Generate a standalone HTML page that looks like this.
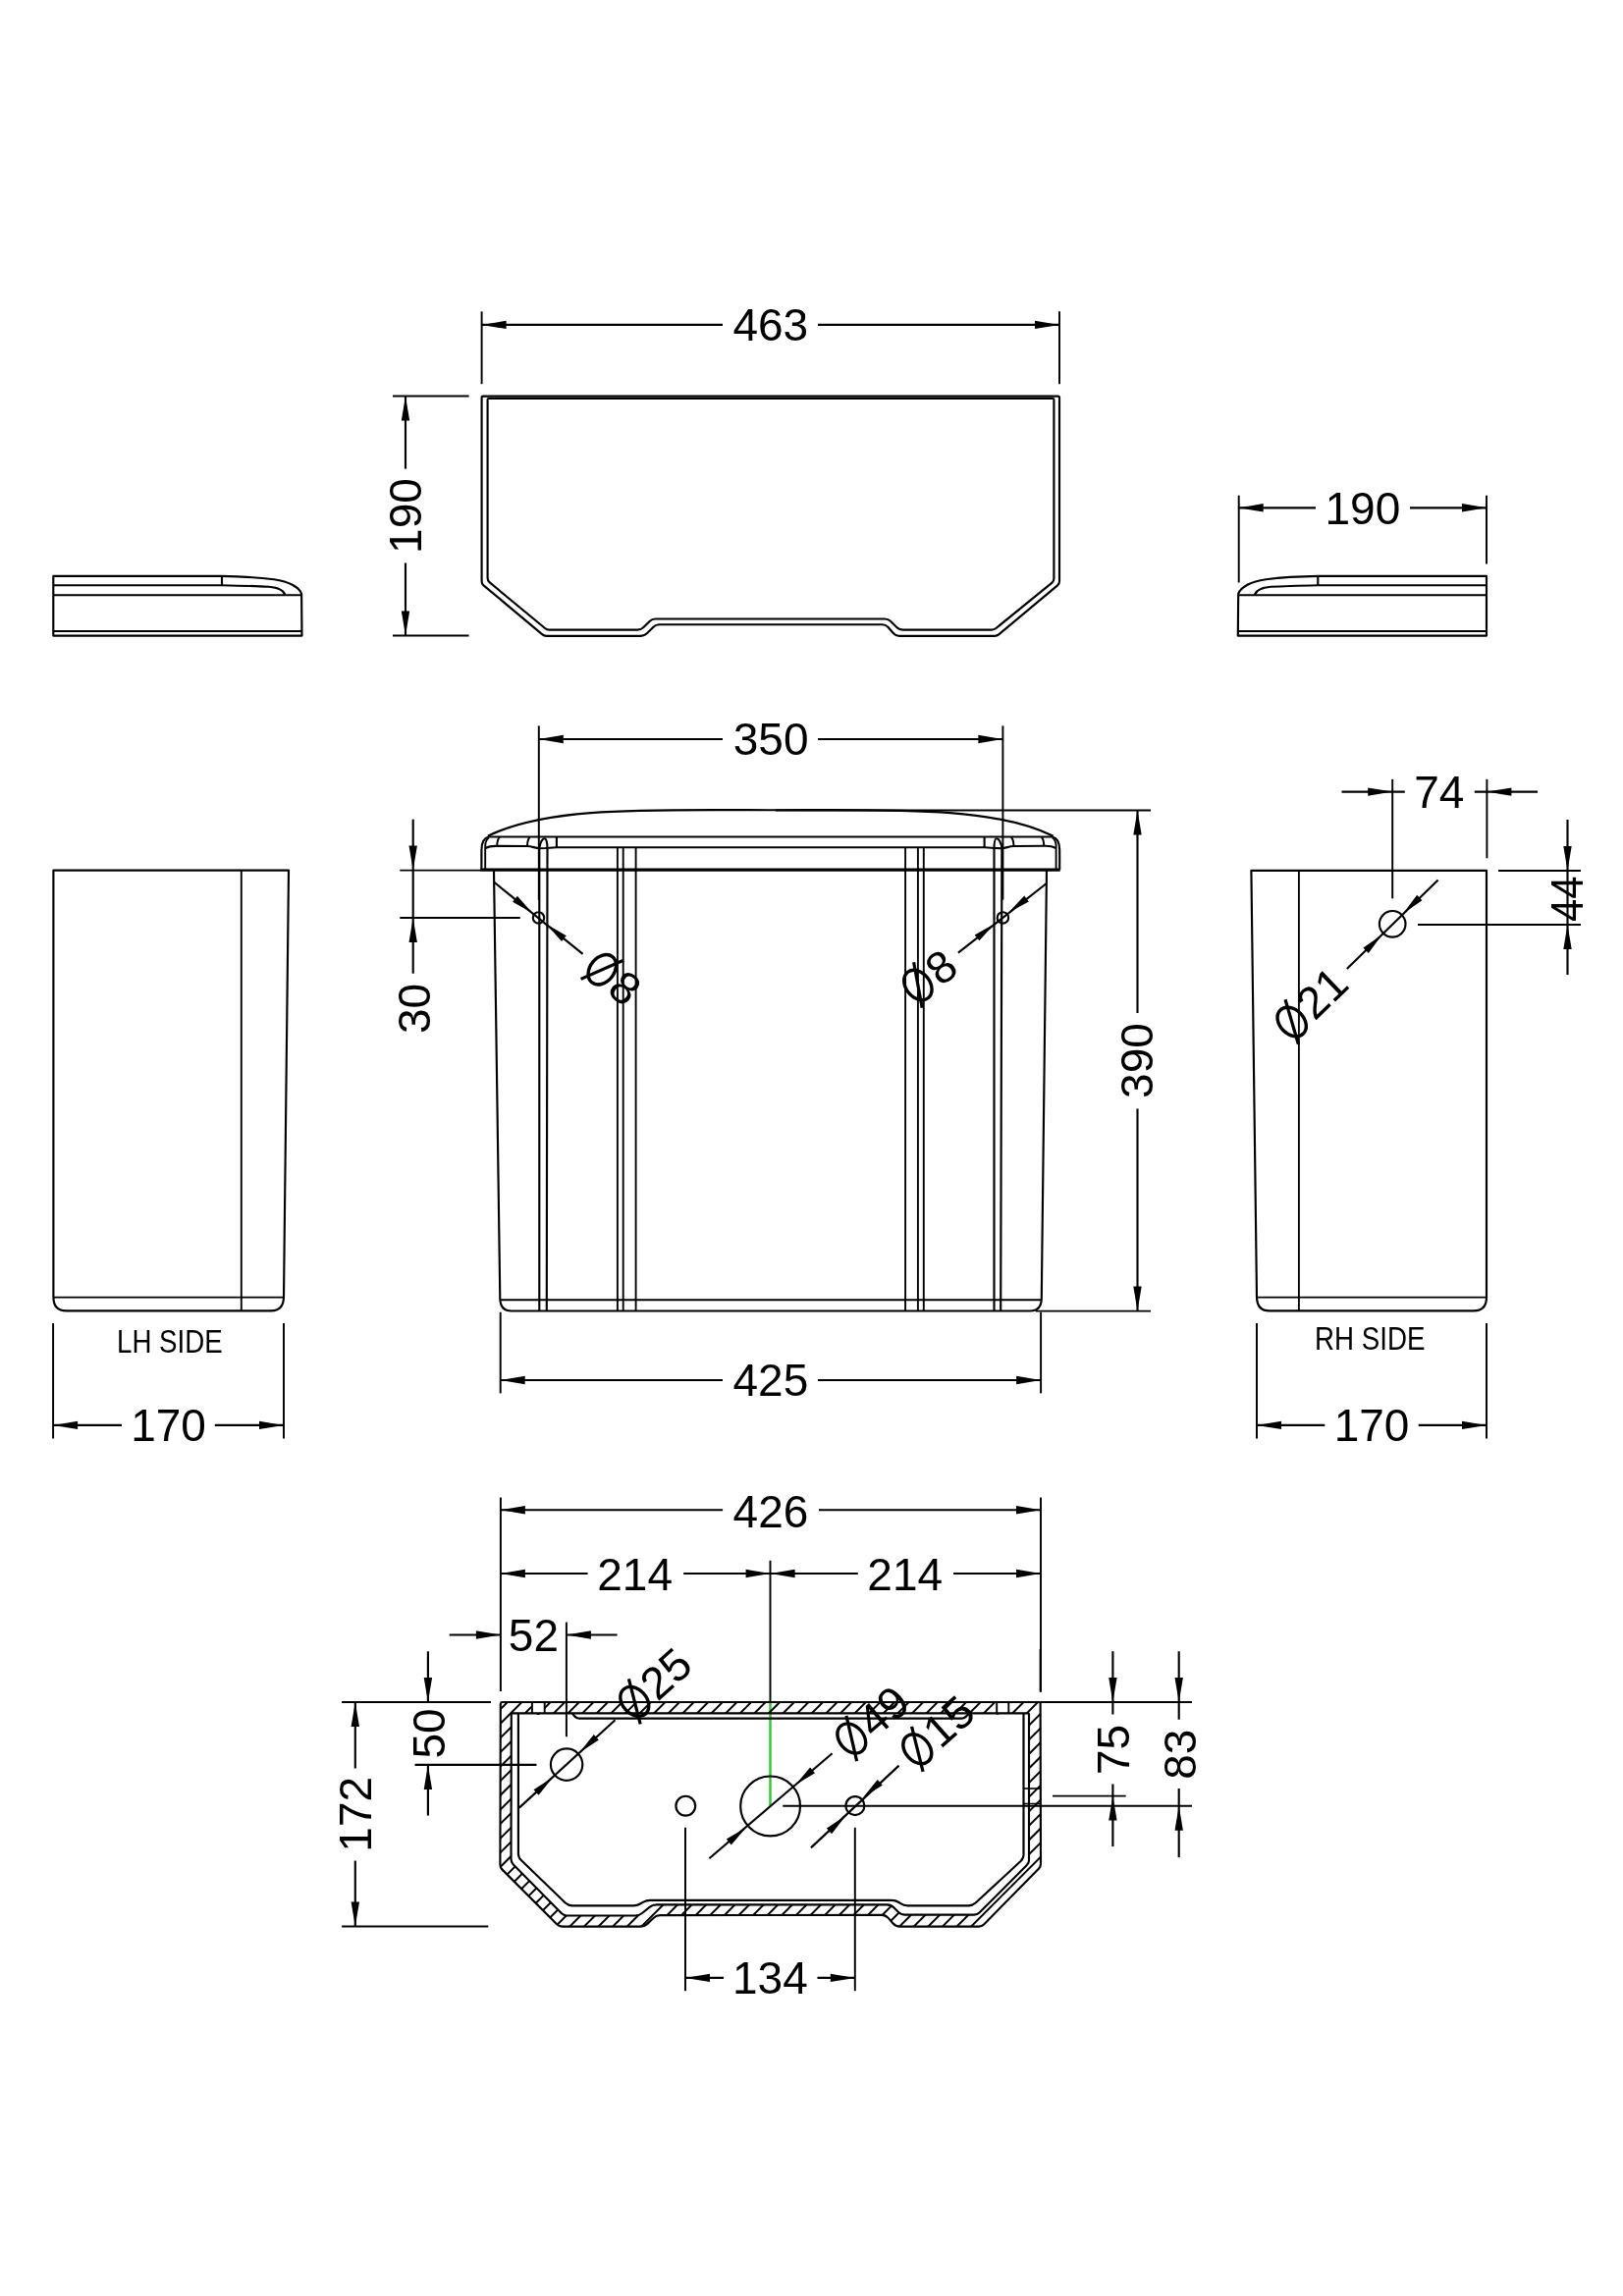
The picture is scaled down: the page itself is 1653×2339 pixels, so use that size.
<!DOCTYPE html>
<html><head><meta charset="utf-8"><style>
html,body{margin:0;padding:0;background:#fff;width:1653px;height:2339px;overflow:hidden}
svg{display:block;position:absolute;left:0;top:0;will-change:transform;font-family:"Liberation Sans",sans-serif}
</style></head><body>
<svg width="1653" height="2339" viewBox="0 0 1653 2339" font-family="Liberation Sans, sans-serif" stroke-linecap="butt" stroke-linejoin="round">
<rect width="1653" height="2339" fill="#fff"/>
<line x1="490.6" y1="317.3" x2="490.6" y2="391.2" stroke="#000" stroke-width="1.95"/>
<line x1="1079" y1="317.3" x2="1079" y2="391.2" stroke="#000" stroke-width="1.95"/>
<line x1="490.6" y1="330.9" x2="736" y2="330.9" stroke="#000" stroke-width="2.15"/>
<line x1="833" y1="330.9" x2="1079" y2="330.9" stroke="#000" stroke-width="2.15"/>
<path d="M490.6,330.9 L515.6,326.7 L515.6,335.1 Z" fill="#000"/>
<path d="M1079,330.9 L1054,335.1 L1054,326.7 Z" fill="#000"/>
<text transform="translate(784.8,347.3)" font-size="46" text-anchor="middle">463</text>
<path d="M492.1,403.6 L1077.5,403.6 Q1079,403.6 1079,405.1 L1079,592.2 Q1079,594.7 1077.08,596.31 L1017.52,646.19 Q1015.6,647.8 1013.1,647.8 L915.9,647.8 Q912.4,647.8 910.06,645.19 L904.34,638.81 Q902,636.2 898.5,636.2 L671.5,636.2 Q668,636.2 665.53,638.67 L658.87,645.33 Q656.4,647.8 652.9,647.8 L556.5,647.8 Q554,647.8 552.08,646.19 L492.52,596.31 Q490.6,594.7 490.6,592.2 L490.6,405.1 Q490.6,403.6 492.1,403.6 Z" fill="none" stroke="#000" stroke-width="2.15"/>
<path d="M497.6,406 L1072.4,406 Q1073.4,406 1073.4,407 L1073.4,589.5 Q1073.4,592 1071.46,593.58 L1014.44,640.02 Q1012.5,641.6 1010,641.6 L919.5,641.6 Q916,641.6 913.5,639.15 L907.2,632.95 Q904.7,630.5 901.2,630.5 L667.5,630.5 Q664,630.5 661.54,632.99 L655.46,639.11 Q653,641.6 649.5,641.6 L559.5,641.6 Q557,641.6 555.07,640.01 L498.53,593.19 Q496.6,591.6 496.6,589.1 L496.6,407 Q496.6,406 497.6,406 Z" fill="none" stroke="#000" stroke-width="2.15"/>
<line x1="400" y1="403.5" x2="477.6" y2="403.5" stroke="#000" stroke-width="1.95"/>
<line x1="400" y1="647.5" x2="477.6" y2="647.5" stroke="#000" stroke-width="1.95"/>
<line x1="413" y1="403.5" x2="413" y2="477.6" stroke="#000" stroke-width="2.15"/>
<line x1="413" y1="573.5" x2="413" y2="647.5" stroke="#000" stroke-width="2.15"/>
<path d="M413,403.5 L417.2,428.5 L408.8,428.5 Z" fill="#000"/>
<path d="M413,647.5 L408.8,622.5 L417.2,622.5 Z" fill="#000"/>
<text transform="translate(429.4,525.5) rotate(-90)" font-size="46" text-anchor="middle">190</text>
<path d="M226,586.9 L54.3,586.9 L54.3,647.6 L307.5,647.6 L307.1,604.5" fill="none" stroke="#000" stroke-width="2.15"/>
<line x1="54.3" y1="596.2" x2="226" y2="596.2" stroke="#000" stroke-width="2.15"/>
<line x1="54.3" y1="606.2" x2="307.1" y2="606.2" stroke="#000" stroke-width="2.15"/>
<line x1="54.3" y1="643" x2="307.3" y2="643" stroke="#000" stroke-width="2.15"/>
<line x1="226" y1="586.9" x2="226" y2="596.2" stroke="#000" stroke-width="2.15"/>
<path d="M226,586.9 C250,587.3 266,588.6 279,590.2 C295,592.5 305,598.5 307.1,605" fill="none" stroke="#000" stroke-width="2.15"/>
<path d="M226,596.2 C245,596.6 262,597.1 274,597.8 C284,598.6 289,601.5 290.5,606.2" fill="none" stroke="#000" stroke-width="2.15"/>
<path d="M1342.3,586.9 L1514,586.9 L1514,647.6 L1260.8,647.6 L1261.2,604.5" fill="none" stroke="#000" stroke-width="2.15"/>
<line x1="1514" y1="596.2" x2="1342.3" y2="596.2" stroke="#000" stroke-width="2.15"/>
<line x1="1514" y1="606.2" x2="1261.2" y2="606.2" stroke="#000" stroke-width="2.15"/>
<line x1="1514" y1="643" x2="1261" y2="643" stroke="#000" stroke-width="2.15"/>
<line x1="1342.3" y1="586.9" x2="1342.3" y2="596.2" stroke="#000" stroke-width="2.15"/>
<path d="M1342.3,586.9 C1318.3,587.3 1302.3,588.6 1289.3,590.2 C1273.3,592.5 1263.3,598.5 1261.2,605" fill="none" stroke="#000" stroke-width="2.15"/>
<path d="M1342.3,596.2 C1323.3,596.6 1306.3,597.1 1294.3,597.8 C1284.3,598.6 1279.3,601.5 1277.8,606.2" fill="none" stroke="#000" stroke-width="2.15"/>
<line x1="1261.7" y1="504.7" x2="1261.7" y2="593.5" stroke="#000" stroke-width="1.95"/>
<line x1="1514" y1="504.7" x2="1514" y2="574.5" stroke="#000" stroke-width="1.95"/>
<line x1="1261.7" y1="517.3" x2="1340" y2="517.3" stroke="#000" stroke-width="2.15"/>
<line x1="1436" y1="517.3" x2="1514" y2="517.3" stroke="#000" stroke-width="2.15"/>
<path d="M1261.7,517.3 L1286.7,513.1 L1286.7,521.5 Z" fill="#000"/>
<path d="M1514,517.3 L1489,521.5 L1489,513.1 Z" fill="#000"/>
<text transform="translate(1387.85,534)" font-size="46" text-anchor="middle">190</text>
<line x1="548.8" y1="739.4" x2="548.8" y2="916.6" stroke="#000" stroke-width="1.95"/>
<line x1="1021.4" y1="739.4" x2="1021.4" y2="916.6" stroke="#000" stroke-width="1.95"/>
<line x1="548.8" y1="753" x2="736" y2="753" stroke="#000" stroke-width="2.15"/>
<line x1="833" y1="753" x2="1021.4" y2="753" stroke="#000" stroke-width="2.15"/>
<path d="M548.8,753 L573.8,748.8 L573.8,757.2 Z" fill="#000"/>
<path d="M1021.4,753 L996.4,757.2 L996.4,748.8 Z" fill="#000"/>
<text transform="translate(785.1,769.3)" font-size="46" text-anchor="middle">350</text>
<path d="M496.8,851.8 C557.8,821.2 660,825.2 784.75,825.2 C909.5,825.2 1011.7,821.2 1072.7,851.8" fill="none" stroke="#000" stroke-width="2.15"/>
<path d="M490.4,886 L490.4,866 C490.4,858 493,853.5 498,852.5 L1071.5,852.5 C1076.5,853.5 1079.2,858 1079.2,866 L1079.2,886" fill="none" stroke="#000" stroke-width="2.15"/>
<path d="M494.2,886 L494.2,862 C494.2,858 495.5,855 498,853.5" fill="none" stroke="#000" stroke-width="1.9"/>
<path d="M1075.6,886 L1075.6,862 C1075.6,858 1074.3,855 1071.8,853.5" fill="none" stroke="#000" stroke-width="1.9"/>
<line x1="489.5" y1="886.2" x2="1079.7" y2="886.2" stroke="#000" stroke-width="3.3"/>
<path d="M494.5,864 C497,862.5 500,861.8 505,861.8 L537,862 C542,862 545,864.2 549.5,864.2 L556,864 L567,863.2 L1002.5,863.2 L1013.5,864 L1020,864.2 C1024.5,864.2 1027.5,862 1032.5,862 L1064.5,861.8 C1069.5,861.8 1072.5,862.5 1075,864" fill="none" stroke="#000" stroke-width="2.15"/>
<path d="M508.8,852.9 C507.3,854.5 506.4,857 506.3,861" fill="none" stroke="#000" stroke-width="2.0"/>
<path d="M1060.7,852.9 C1062.2,854.5 1063.1,857 1063.2,861" fill="none" stroke="#000" stroke-width="2.0"/>
<path d="M539.6,852.9 C538.1,854.5 537.2,857 537.1,861" fill="none" stroke="#000" stroke-width="2.0"/>
<path d="M1029.9,852.9 C1031.4,854.5 1032.3,857 1032.4,861" fill="none" stroke="#000" stroke-width="2.0"/>
<line x1="566.9" y1="852.5" x2="566.9" y2="863.2" stroke="#000" stroke-width="2.15"/>
<line x1="1002.6" y1="852.5" x2="1002.6" y2="863.2" stroke="#000" stroke-width="2.15"/>
<path d="M549.3,1335.5 L549.3,864 C550,858 552.5,854.2 554.7,854.2 C556.3,854.2 557.5,858 557.5,865 L556.8,1335.5" fill="none" stroke="#000" stroke-width="2.15"/>
<path d="M1012.5,1335.5 L1012.5,865 C1012.5,858 1013.3,854.2 1014.9,854.2 C1017,854.2 1019.8,858 1020.4,864 L1019.2,1335.5" fill="none" stroke="#000" stroke-width="2.15"/>
<line x1="628.9" y1="863.2" x2="628.9" y2="1335.5" stroke="#000" stroke-width="1.9"/>
<line x1="634.7" y1="863.2" x2="634.7" y2="1335.5" stroke="#000" stroke-width="1.9"/>
<line x1="647.6" y1="863.2" x2="647.6" y2="1335.5" stroke="#000" stroke-width="1.9"/>
<line x1="922.1" y1="863.2" x2="922.1" y2="1335.5" stroke="#000" stroke-width="1.9"/>
<line x1="934.9" y1="863.2" x2="934.9" y2="1335.5" stroke="#000" stroke-width="1.9"/>
<line x1="940.8" y1="863.2" x2="940.8" y2="1335.5" stroke="#000" stroke-width="1.9"/>
<path d="M503,886 L509.3,1323 C509.5,1331 513,1335.5 521,1335.5 L1049,1335.5 C1057,1335.5 1060.6,1331 1060.8,1323 L1066,886" fill="none" stroke="#000" stroke-width="2.15"/>
<line x1="509.3" y1="1324.2" x2="1060.8" y2="1324.2" stroke="#000" stroke-width="2.15"/>
<circle cx="548.5" cy="934.9" r="5.7" fill="none" stroke="#000" stroke-width="2.15"/>
<circle cx="1021.4" cy="934.9" r="5.7" fill="none" stroke="#000" stroke-width="2.15"/>
<line x1="503" y1="898.5" x2="593.6" y2="971.8" stroke="#000" stroke-width="2.15"/>
<path d="M542.4,930.2 L522.1,918.74 L526.86,912.82 Z" fill="#000"/>
<path d="M556.6,941.5 L576.8,953.13 L571.99,959.01 Z" fill="#000"/>
<line x1="1065.8" y1="900" x2="975.9" y2="970.7" stroke="#000" stroke-width="2.15"/>
<path d="M1027.3,929.6 L1043.22,912.57 L1047.85,918.59 Z" fill="#000"/>
<path d="M1013,941 L997.42,958.34 L992.67,952.41 Z" fill="#000"/>
<g transform="translate(613.3,987.8) rotate(38.5)">
<ellipse cx="0" cy="0" rx="12.3" ry="16.8" fill="none" stroke="#000" stroke-width="3.4"/>
<line x1="11" y1="-21" x2="-11" y2="21" stroke="#000" stroke-width="3.2"/>
<text x="17" y="16" font-size="46">8</text>
</g>
<g transform="translate(934.9,1003.5) rotate(-38)">
<ellipse cx="0" cy="0" rx="12.3" ry="16.8" fill="none" stroke="#000" stroke-width="3.4"/>
<line x1="11" y1="-21" x2="-11" y2="21" stroke="#000" stroke-width="3.2"/>
<text x="17" y="16" font-size="46">8</text>
</g>
<line x1="407.3" y1="886.6" x2="490" y2="886.6" stroke="#000" stroke-width="1.95"/>
<line x1="407.3" y1="935" x2="529.8" y2="935" stroke="#000" stroke-width="1.95"/>
<line x1="420.7" y1="834.7" x2="420.7" y2="991.7" stroke="#000" stroke-width="2.15"/>
<path d="M420.7,886.6 L416.5,861.6 L424.9,861.6 Z" fill="#000"/>
<path d="M420.7,935 L424.9,960 L416.5,960 Z" fill="#000"/>
<text transform="translate(438.3,1027.5) rotate(-90)" font-size="46" text-anchor="middle">30</text>
<line x1="790" y1="825.5" x2="1172" y2="825.5" stroke="#000" stroke-width="1.95"/>
<line x1="1055" y1="1335.6" x2="1172" y2="1335.6" stroke="#000" stroke-width="1.95"/>
<line x1="1158.5" y1="825.5" x2="1158.5" y2="1032" stroke="#000" stroke-width="2.15"/>
<line x1="1158.5" y1="1129.5" x2="1158.5" y2="1335.6" stroke="#000" stroke-width="2.15"/>
<path d="M1158.5,825.5 L1162.7,850.5 L1154.3,850.5 Z" fill="#000"/>
<path d="M1158.5,1335.6 L1154.3,1310.6 L1162.7,1310.6 Z" fill="#000"/>
<text transform="translate(1174.3,1080.55) rotate(-90)" font-size="46" text-anchor="middle">390</text>
<line x1="509.7" y1="1336.7" x2="509.7" y2="1419.4" stroke="#000" stroke-width="1.95"/>
<line x1="1060.1" y1="1336.7" x2="1060.1" y2="1419.4" stroke="#000" stroke-width="1.95"/>
<line x1="509.7" y1="1406" x2="736" y2="1406" stroke="#000" stroke-width="2.15"/>
<line x1="833" y1="1406" x2="1060.1" y2="1406" stroke="#000" stroke-width="2.15"/>
<path d="M509.7,1406 L534.7,1401.8 L534.7,1410.2 Z" fill="#000"/>
<path d="M1060.1,1406 L1035.1,1410.2 L1035.1,1401.8 Z" fill="#000"/>
<text transform="translate(784.9,1422)" font-size="46" text-anchor="middle">425</text>
<path d="M54.4,886.6 L294,886.6 L289,1321.6 C288.8,1330 285,1335.4 276,1335.4 L67.5,1335.4 C58,1335.4 54.4,1330 54.4,1321.6 Z" fill="none" stroke="#000" stroke-width="2.15"/>
<line x1="245.8" y1="886.6" x2="245.8" y2="1335.4" stroke="#000" stroke-width="1.9"/>
<line x1="54.1" y1="1321.6" x2="289" y2="1321.6" stroke="#000" stroke-width="1.9"/>
<line x1="54.1" y1="1348" x2="54.1" y2="1465.5" stroke="#000" stroke-width="1.95"/>
<line x1="289" y1="1348" x2="289" y2="1465.5" stroke="#000" stroke-width="1.95"/>
<line x1="54.1" y1="1451.9" x2="124" y2="1451.9" stroke="#000" stroke-width="2.15"/>
<line x1="218.8" y1="1451.9" x2="289" y2="1451.9" stroke="#000" stroke-width="2.15"/>
<path d="M54.1,1451.9 L79.1,1447.7 L79.1,1456.1 Z" fill="#000"/>
<path d="M289,1451.9 L264,1456.1 L264,1447.7 Z" fill="#000"/>
<text transform="translate(171.55,1468)" font-size="46" text-anchor="middle">170</text>
<text transform="translate(172.9,1378.2) scale(0.84,1.0)" font-size="33" text-anchor="middle">LH SIDE</text>
<path d="M1274.4,886.9 L1514,886.9 L1514,1321.6 C1514,1330 1510,1335.4 1501,1335.4 L1293,1335.4 C1284,1335.4 1280.2,1330 1280,1321.6 Z" fill="none" stroke="#000" stroke-width="2.15"/>
<line x1="1322.9" y1="886.9" x2="1322.9" y2="1335.4" stroke="#000" stroke-width="1.9"/>
<line x1="1280" y1="1321.6" x2="1514" y2="1321.6" stroke="#000" stroke-width="1.9"/>
<line x1="1280" y1="1348" x2="1280" y2="1465.5" stroke="#000" stroke-width="1.95"/>
<line x1="1514" y1="1348" x2="1514" y2="1465.5" stroke="#000" stroke-width="1.95"/>
<line x1="1280" y1="1451.9" x2="1349.3" y2="1451.9" stroke="#000" stroke-width="2.15"/>
<line x1="1444.7" y1="1451.9" x2="1514" y2="1451.9" stroke="#000" stroke-width="2.15"/>
<path d="M1280,1451.9 L1305,1447.7 L1305,1456.1 Z" fill="#000"/>
<path d="M1514,1451.9 L1489,1456.1 L1489,1447.7 Z" fill="#000"/>
<text transform="translate(1397,1468)" font-size="46" text-anchor="middle">170</text>
<text transform="translate(1395.2,1375.2) scale(0.84,1.0)" font-size="33" text-anchor="middle">RH SIDE</text>
<line x1="1418.2" y1="793.8" x2="1418.2" y2="915.3" stroke="#000" stroke-width="1.95"/>
<line x1="1514.4" y1="793.8" x2="1514.4" y2="874.3" stroke="#000" stroke-width="1.95"/>
<line x1="1366.5" y1="806.6" x2="1430.8" y2="806.6" stroke="#000" stroke-width="2.15"/>
<path d="M1418.2,806.6 L1393.2,810.8 L1393.2,802.4 Z" fill="#000"/>
<line x1="1501.8" y1="806.6" x2="1566" y2="806.6" stroke="#000" stroke-width="2.15"/>
<path d="M1514.4,806.6 L1539.4,802.4 L1539.4,810.8 Z" fill="#000"/>
<text transform="translate(1465.8,823.3)" font-size="46" text-anchor="middle">74</text>
<line x1="1526" y1="886.9" x2="1610" y2="886.9" stroke="#000" stroke-width="1.95"/>
<line x1="1444" y1="942" x2="1610" y2="942" stroke="#000" stroke-width="1.95"/>
<line x1="1596.5" y1="835" x2="1596.5" y2="886.9" stroke="#000" stroke-width="2.15"/>
<path d="M1596.5,886.9 L1592.3,861.9 L1600.7,861.9 Z" fill="#000"/>
<line x1="1596.5" y1="942" x2="1596.5" y2="993" stroke="#000" stroke-width="2.15"/>
<path d="M1596.5,942 L1600.7,967 L1592.3,967 Z" fill="#000"/>
<line x1="1596.5" y1="886.9" x2="1596.5" y2="942" stroke="#000" stroke-width="2.15"/>
<text transform="translate(1611.6,915.8) rotate(-90) scale(0.91,1.0)" font-size="46" text-anchor="middle">44</text>
<circle cx="1418.2" cy="941.3" r="13.3" fill="none" stroke="#000" stroke-width="2.15"/>
<line x1="1464.6" y1="896.5" x2="1371.8" y2="987" stroke="#000" stroke-width="2.15"/>
<path d="M1429.2,930.5 L1443.16,911.83 L1448.42,917.31 Z" fill="#000"/>
<path d="M1407.6,952.2 L1393.76,970.96 L1388.46,965.51 Z" fill="#000"/>
<g transform="translate(1315.7,1041) rotate(-44)">
<ellipse cx="0" cy="0" rx="12.3" ry="16.8" fill="none" stroke="#000" stroke-width="3.4"/>
<line x1="11" y1="-21" x2="-11" y2="21" stroke="#000" stroke-width="3.2"/>
<text x="17" y="16" font-size="46">21</text>
</g>
<line x1="509.9" y1="1525.5" x2="509.9" y2="1723" stroke="#000" stroke-width="1.95"/>
<line x1="1060" y1="1525.5" x2="1060" y2="1723.6" stroke="#000" stroke-width="1.95"/>
<line x1="509.9" y1="1538.2" x2="736.1" y2="1538.2" stroke="#000" stroke-width="2.15"/>
<line x1="834" y1="1538.2" x2="1060" y2="1538.2" stroke="#000" stroke-width="2.15"/>
<path d="M509.9,1538.2 L534.9,1534 L534.9,1542.4 Z" fill="#000"/>
<path d="M1060,1538.2 L1035,1542.4 L1035,1534 Z" fill="#000"/>
<text transform="translate(784.95,1555.5)" font-size="46" text-anchor="middle">426</text>
<line x1="509.9" y1="1603" x2="598.6" y2="1603" stroke="#000" stroke-width="2.15"/>
<line x1="696.2" y1="1603" x2="873.8" y2="1603" stroke="#000" stroke-width="2.15"/>
<line x1="971" y1="1603" x2="1060" y2="1603" stroke="#000" stroke-width="2.15"/>
<path d="M509.9,1603 L534.9,1598.8 L534.9,1607.2 Z" fill="#000"/>
<path d="M784.6,1603 L759.6,1607.2 L759.6,1598.8 Z" fill="#000"/>
<path d="M784.6,1603 L809.6,1598.8 L809.6,1607.2 Z" fill="#000"/>
<path d="M1060,1603 L1035,1607.2 L1035,1598.8 Z" fill="#000"/>
<text transform="translate(646.6,1619.8)" font-size="46" text-anchor="middle">214</text>
<text transform="translate(921.7,1619.6)" font-size="46" text-anchor="middle">214</text>
<line x1="784.5" y1="1589.8" x2="784.5" y2="1734" stroke="#000" stroke-width="1.95"/>
<line x1="784.5" y1="1734" x2="784.5" y2="1839.9" stroke="#35c835" stroke-width="2.5"/>
<line x1="457.7" y1="1665.5" x2="509.9" y2="1665.5" stroke="#000" stroke-width="2.15"/>
<path d="M509.9,1665.5 L484.9,1669.7 L484.9,1661.3 Z" fill="#000"/>
<line x1="576.9" y1="1652.6" x2="576.9" y2="1769.2" stroke="#000" stroke-width="1.95"/>
<line x1="576.9" y1="1665.5" x2="628.6" y2="1665.5" stroke="#000" stroke-width="2.15"/>
<path d="M576.9,1665.5 L601.9,1661.3 L601.9,1669.7 Z" fill="#000"/>
<text transform="translate(543.4,1682.3)" font-size="46" text-anchor="middle">52</text>
<line x1="348.1" y1="1734" x2="500" y2="1734" stroke="#000" stroke-width="1.95"/>
<line x1="435.9" y1="1682.3" x2="435.9" y2="1734" stroke="#000" stroke-width="2.15"/>
<path d="M435.9,1734 L431.7,1709 L440.1,1709 Z" fill="#000"/>
<line x1="422.7" y1="1798" x2="546.3" y2="1798" stroke="#000" stroke-width="1.95"/>
<line x1="435.9" y1="1798" x2="435.9" y2="1849.6" stroke="#000" stroke-width="2.15"/>
<path d="M435.9,1798 L440.1,1823 L431.7,1823 Z" fill="#000"/>
<text transform="translate(452.7,1765.9) rotate(-90)" font-size="46" text-anchor="middle">50</text>
<line x1="348.1" y1="1962.5" x2="497.3" y2="1962.5" stroke="#000" stroke-width="1.95"/>
<line x1="361.8" y1="1734" x2="361.8" y2="1801.5" stroke="#000" stroke-width="2.15"/>
<line x1="361.8" y1="1895.6" x2="361.8" y2="1962.5" stroke="#000" stroke-width="2.15"/>
<path d="M361.8,1734 L366,1759 L357.6,1759 Z" fill="#000"/>
<path d="M361.8,1962.5 L357.6,1937.5 L366,1937.5 Z" fill="#000"/>
<text transform="translate(378.1,1848.25) rotate(-90)" font-size="46" text-anchor="middle">172</text>
<line x1="1059.5" y1="1734" x2="1214" y2="1734" stroke="#000" stroke-width="1.95"/>
<line x1="797.3" y1="1839.7" x2="1214" y2="1839.7" stroke="#000" stroke-width="1.95"/>
<line x1="1072" y1="1829.6" x2="1146.7" y2="1829.6" stroke="#000" stroke-width="1.95"/>
<line x1="1059.6" y1="1680" x2="1059.6" y2="1723.6" stroke="#000" stroke-width="1.95"/>
<line x1="1133.4" y1="1682.2" x2="1133.4" y2="1746.5" stroke="#000" stroke-width="2.15"/>
<path d="M1133.4,1734 L1129.2,1709 L1137.6,1709 Z" fill="#000"/>
<line x1="1133.4" y1="1817.5" x2="1133.4" y2="1881.1" stroke="#000" stroke-width="2.15"/>
<path d="M1133.4,1829.6 L1137.6,1854.6 L1129.2,1854.6 Z" fill="#000"/>
<text transform="translate(1149.7,1782.5) rotate(-90)" font-size="46" text-anchor="middle">75</text>
<line x1="1200.7" y1="1682.2" x2="1200.7" y2="1751.7" stroke="#000" stroke-width="2.15"/>
<path d="M1200.7,1734 L1196.5,1709 L1204.9,1709 Z" fill="#000"/>
<line x1="1200.7" y1="1822" x2="1200.7" y2="1892.2" stroke="#000" stroke-width="2.15"/>
<path d="M1200.7,1839.7 L1204.9,1864.7 L1196.5,1864.7 Z" fill="#000"/>
<text transform="translate(1217.7,1787.2) rotate(-90)" font-size="46" text-anchor="middle">83</text>
<line x1="698" y1="1861.8" x2="698" y2="2028.2" stroke="#000" stroke-width="1.95"/>
<line x1="870.8" y1="1861.8" x2="870.8" y2="2028.2" stroke="#000" stroke-width="1.95"/>
<line x1="698" y1="2014.9" x2="737" y2="2014.9" stroke="#000" stroke-width="2.15"/>
<line x1="832.5" y1="2014.9" x2="870.8" y2="2014.9" stroke="#000" stroke-width="2.15"/>
<path d="M698,2014.9 L723,2010.7 L723,2019.1 Z" fill="#000"/>
<path d="M870.8,2014.9 L845.8,2019.1 L845.8,2010.7 Z" fill="#000"/>
<text transform="translate(784.4,2031)" font-size="46" text-anchor="middle">134</text>
<defs><clipPath id="hc"><path clip-rule="evenodd" d="M511.8,1734 L1058.6,1734 Q1059.6,1734 1059.6,1735 L1059.99,1898.6 Q1060,1901.6 1057.9,1903.74 L1002.1,1960.46 Q1000,1962.6 997,1962.6 L916.2,1962.6 Q912.2,1962.6 909.58,1959.57 L904.62,1953.83 Q902,1950.8 898,1950.81 L672.4,1951.19 Q668.4,1951.2 665.5,1953.95 L659.3,1959.85 Q656.4,1962.6 652.4,1962.6 L572.5,1962.6 Q569.5,1962.6 567.38,1960.48 L511.52,1904.62 Q509.4,1902.5 509.41,1899.5 L509.8,1736 Q509.8,1734 511.8,1734 Z M521.8,1745.4 L1047,1745.4 Q1048,1745.4 1048,1746.4 L1048,1894.9 Q1048,1897.9 1045.88,1900.02 L997.42,1948.48 Q995.3,1950.6 992.3,1950.6 L921.7,1950.6 Q917.7,1950.6 914.87,1947.77 L910.33,1943.23 Q907.5,1940.4 903.5,1940.4 L668.7,1940.4 Q664.7,1940.4 661.57,1942.9 L653.93,1949 Q650.8,1951.5 646.8,1951.5 L577.1,1951.5 Q574.1,1951.5 572,1949.36 L522.6,1899.14 Q520.5,1897 520.51,1894 L520.8,1746.4 Q520.8,1745.4 521.8,1745.4 Z M541.9,1733 L554.7,1733 L554.7,1747 L541.9,1747 Z M1015.2,1733 L1027.3,1733 L1027.3,1747 L1015.2,1747 Z"/></clipPath></defs>
<path clip-path="url(#hc)" d="M255.7,1966 L491.7,1730 M270.3,1966 L506.3,1730 M284.9,1966 L520.9,1730 M299.5,1966 L535.5,1730 M314.1,1966 L550.1,1730 M328.7,1966 L564.7,1730 M343.3,1966 L579.3,1730 M357.9,1966 L593.9,1730 M372.5,1966 L608.5,1730 M387.1,1966 L623.1,1730 M401.7,1966 L637.7,1730 M416.3,1966 L652.3,1730 M430.9,1966 L666.9,1730 M445.5,1966 L681.5,1730 M460.1,1966 L696.1,1730 M474.7,1966 L710.7,1730 M489.3,1966 L725.3,1730 M503.9,1966 L739.9,1730 M518.5,1966 L754.5,1730 M533.1,1966 L769.1,1730 M547.7,1966 L783.7,1730 M562.3,1966 L798.3,1730 M576.9,1966 L812.9,1730 M591.5,1966 L827.5,1730 M606.1,1966 L842.1,1730 M620.7,1966 L856.7,1730 M635.3,1966 L871.3,1730 M649.9,1966 L885.9,1730 M664.5,1966 L900.5,1730 M679.1,1966 L915.1,1730 M693.7,1966 L929.7,1730 M708.3,1966 L944.3,1730 M722.9,1966 L958.9,1730 M737.5,1966 L973.5,1730 M752.1,1966 L988.1,1730 M766.7,1966 L1002.7,1730 M781.3,1966 L1017.3,1730 M795.9,1966 L1031.9,1730 M810.5,1966 L1046.5,1730 M825.1,1966 L1061.1,1730 M839.7,1966 L1075.7,1730 M854.3,1966 L1090.3,1730 M868.9,1966 L1104.9,1730 M883.5,1966 L1119.5,1730 M898.1,1966 L1134.1,1730 M912.7,1966 L1148.7,1730 M927.3,1966 L1163.3,1730 M941.9,1966 L1177.9,1730 M956.5,1966 L1192.5,1730 M971.1,1966 L1207.1,1730 M985.7,1966 L1221.7,1730 M1000.3,1966 L1236.3,1730 M1014.9,1966 L1250.9,1730 M1029.5,1966 L1265.5,1730 M1044.1,1966 L1280.1,1730 M1058.7,1966 L1294.7,1730 M1073.3,1966 L1309.3,1730" stroke="#000" stroke-width="2" fill="none"/>
<path d="M511.8,1734 L1058.6,1734 Q1059.6,1734 1059.6,1735 L1059.99,1898.6 Q1060,1901.6 1057.9,1903.74 L1002.1,1960.46 Q1000,1962.6 997,1962.6 L916.2,1962.6 Q912.2,1962.6 909.58,1959.57 L904.62,1953.83 Q902,1950.8 898,1950.81 L672.4,1951.19 Q668.4,1951.2 665.5,1953.95 L659.3,1959.85 Q656.4,1962.6 652.4,1962.6 L572.5,1962.6 Q569.5,1962.6 567.38,1960.48 L511.52,1904.62 Q509.4,1902.5 509.41,1899.5 L509.8,1736 Q509.8,1734 511.8,1734 Z" fill="none" stroke="#000" stroke-width="2.15"/>
<path d="M521.8,1745.4 L1047,1745.4 Q1048,1745.4 1048,1746.4 L1048,1894.9 Q1048,1897.9 1045.88,1900.02 L997.42,1948.48 Q995.3,1950.6 992.3,1950.6 L921.7,1950.6 Q917.7,1950.6 914.87,1947.77 L910.33,1943.23 Q907.5,1940.4 903.5,1940.4 L668.7,1940.4 Q664.7,1940.4 661.57,1942.9 L653.93,1949 Q650.8,1951.5 646.8,1951.5 L577.1,1951.5 Q574.1,1951.5 572,1949.36 L522.6,1899.14 Q520.5,1897 520.51,1894 L520.8,1746.4 Q520.8,1745.4 521.8,1745.4 Z" fill="none" stroke="#000" stroke-width="2.15"/>
<line x1="541.9" y1="1734" x2="541.9" y2="1745.4" stroke="#000" stroke-width="1.9"/>
<line x1="554.7" y1="1734" x2="554.7" y2="1745.4" stroke="#000" stroke-width="1.9"/>
<line x1="1015.2" y1="1734" x2="1015.2" y2="1745.4" stroke="#000" stroke-width="1.9"/>
<line x1="1027.3" y1="1734" x2="1027.3" y2="1745.4" stroke="#000" stroke-width="1.9"/>
<line x1="1042.5" y1="1822" x2="1059.5" y2="1822" stroke="#000" stroke-width="1.6"/>
<line x1="1042.5" y1="1837.5" x2="1059.5" y2="1837.5" stroke="#000" stroke-width="1.6"/>
<path d="M527.9,1746 L527.9,1888.3 Q527.9,1892.3 530.78,1895.08 L575.82,1938.52 Q578.7,1941.3 582.7,1941.3 L645,1941.3 Q649,1941.3 652.43,1939.25 L654.77,1937.85 Q658.2,1935.8 662.2,1935.8 L908.2,1935.8 Q912.2,1935.8 915.53,1938.01 L917.17,1939.09 Q920.5,1941.3 924.5,1941.3 L986.7,1941.3 Q990.7,1941.3 993.63,1938.58 L1039.57,1896.02 Q1042.5,1893.3 1042.5,1889.3 L1042.5,1746" fill="none" stroke="#000" stroke-width="2.15"/>
<path d="M582.8,1745.4 C585,1748.5 586.5,1750.6 590,1750.6 L979.5,1750.6 C983,1750.6 984.5,1748.5 986.7,1745.4" fill="none" stroke="#000" stroke-width="2.15"/>
<circle cx="577.1" cy="1797.6" r="16.2" fill="none" stroke="#000" stroke-width="2.15"/>
<circle cx="698.3" cy="1839.7" r="9.9" fill="none" stroke="#000" stroke-width="2.15"/>
<circle cx="784.6" cy="1839.9" r="30.4" fill="none" stroke="#000" stroke-width="2.15"/>
<circle cx="870.9" cy="1839.6" r="9.5" fill="none" stroke="#000" stroke-width="2.15"/>
<line x1="422.7" y1="1797.6" x2="546.3" y2="1797.6" stroke="#000" stroke-width="1.95"/>
<line x1="626.5" y1="1752.3" x2="528.8" y2="1841.6" stroke="#000" stroke-width="2.15"/>
<path d="M590.3,1785.3 L604.74,1767 L609.86,1772.61 Z" fill="#000"/>
<path d="M563.1,1810.6 L548.58,1828.84 L543.49,1823.2 Z" fill="#000"/>
<line x1="847.6" y1="1786.2" x2="722.4" y2="1893.2" stroke="#000" stroke-width="2.15"/>
<path d="M810.1,1818.3 L825.1,1800.46 L830.04,1806.23 Z" fill="#000"/>
<path d="M759.9,1861.7 L744.73,1879.4 L739.84,1873.58 Z" fill="#000"/>
<line x1="915.6" y1="1798.6" x2="825.9" y2="1882.4" stroke="#000" stroke-width="2.15"/>
<path d="M879.1,1831.1 L893.75,1812.97 L898.8,1818.64 Z" fill="#000"/>
<path d="M861.4,1849.8 L847.03,1868.16 L841.89,1862.56 Z" fill="#000"/>
<g transform="translate(646.3,1733.4) rotate(-42)">
<ellipse cx="0" cy="0" rx="12.3" ry="16.8" fill="none" stroke="#000" stroke-width="3.4"/>
<line x1="11" y1="-21" x2="-11" y2="21" stroke="#000" stroke-width="3.2"/>
<text x="17" y="16" font-size="46">25</text>
</g>
<g transform="translate(867.3,1771) rotate(-40.6)">
<ellipse cx="0" cy="0" rx="12.3" ry="16.8" fill="none" stroke="#000" stroke-width="3.4"/>
<line x1="11" y1="-21" x2="-11" y2="21" stroke="#000" stroke-width="3.2"/>
<text x="17" y="16" font-size="46">49</text>
</g>
<g transform="translate(934.3,1781.8) rotate(-41.7)">
<ellipse cx="0" cy="0" rx="12.3" ry="16.8" fill="none" stroke="#000" stroke-width="3.4"/>
<line x1="11" y1="-21" x2="-11" y2="21" stroke="#000" stroke-width="3.2"/>
<text x="17" y="16" font-size="46">15</text>
</g>
</svg></body></html>
